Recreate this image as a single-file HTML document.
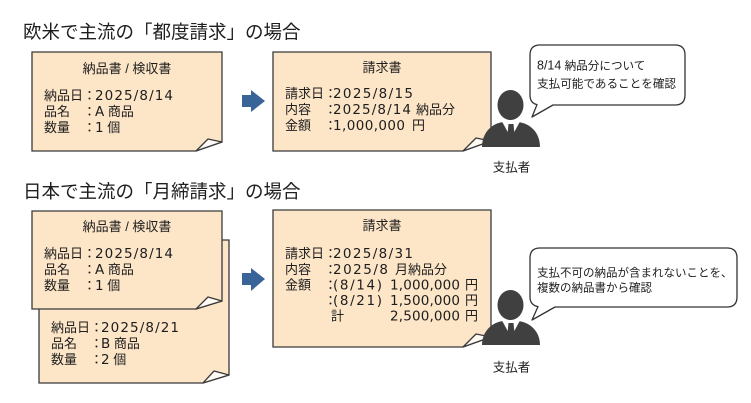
<!DOCTYPE html>
<html><head><meta charset="utf-8">
<style>
html,body{margin:0;padding:0;background:#fff;}
svg{display:block;}
text{font-family:"Liberation Sans","Noto Sans CJK JP",sans-serif;fill:#1e1e1e;}
.t{font-size:18.5px;}
.b{font-size:13px;}
.d{font-size:13.5px;font-family:"DejaVu Sans","Liberation Sans",sans-serif;}
.s{font-size:11.6px;}
.p{font-size:12.5px;}
.box{fill:#fde5c8;stroke:#3a3a3a;stroke-width:1.3;}
.fold{fill:#fffaf3;stroke:#3a3a3a;stroke-width:1.3;stroke-linejoin:round;}
.bub{fill:#fff;stroke:#333;stroke-width:1.3;stroke-linejoin:round;}
.ar{fill:#386497;}
.ps{fill:#404040;}
</style></head><body>
<svg width="751" height="403" viewBox="0 0 751 403" xmlns="http://www.w3.org/2000/svg">

<!-- Titles -->
<text class="t" x="23" y="38.5">欧米で主流の「都度請求」の場合</text>
<text class="t" x="23" y="198">日本で主流の「月締請求」の場合</text>

<!-- ===== Section 1 ===== -->
<!-- Box 1 -->
<path class="box" d="M32 52 H222 V142 L196 151 H32 Z"/>
<path class="fold" d="M196 151 L208 139 L222 142 Z"/>
<text class="b" x="127" y="73" text-anchor="middle">納品書 / 検収書</text>
<text class="b" x="44" y="100">納品日</text><text class="b" x="83" y="100">：</text>
<text class="d" x="95" y="100" textLength="78" lengthAdjust="spacing">2025/8/14</text>
<text class="b" x="44" y="116">品名</text><text class="b" x="83" y="116">：</text>
<text class="b" x="95" y="116"><tspan class="d">A</tspan> 商品</text>
<text class="b" x="44" y="132">数量</text><text class="b" x="83" y="132">：</text>
<text class="b" x="95" y="132"><tspan class="d">1</tspan> 個</text>

<!-- Arrow 1 -->
<rect class="ar" x="242" y="95" width="10" height="12"/>
<polygon class="ar" points="251,90 265,101 251,112"/>

<!-- Box 2 -->
<path class="box" d="M273 52 H491 V141 L463 151 H273 Z"/>
<path class="fold" d="M463 151 L476 138 L491 141 Z"/>
<text class="b" x="382" y="72" text-anchor="middle">請求書</text>
<text class="b" x="285" y="98">請求日</text><text class="b" x="324" y="98">：</text>
<text class="d" x="333" y="98" textLength="80" lengthAdjust="spacing">2025/8/15</text>
<text class="b" x="285" y="114">内容</text><text class="b" x="324" y="114">：</text>
<text class="d" x="333" y="114" textLength="78" lengthAdjust="spacing">2025/8/14</text>
<text class="b" x="416" y="114">納品分</text>
<text class="b" x="285" y="130">金額</text><text class="b" x="324" y="130">：</text>
<text class="d" x="333" y="130" textLength="72" lengthAdjust="spacing">1,000,000</text>
<text class="b" x="412" y="130">円</text>

<!-- Person 1 -->
<g>
  <ellipse class="ps" cx="510.5" cy="105" rx="13" ry="15"/>
  <path class="ps" d="M482 147 C482 131 494 122 505 122 L516 122 C528 122 540 131 540 147 Z"/>
  <polygon fill="#fff" points="502,121.5 520,121.5 511,138"/>
  <polygon class="ps" points="508.5,124 513.5,124 514.5,134 511,139 507.5,134"/>
</g>
<text class="p" x="511.5" y="171.5" text-anchor="middle">支払者</text>

<!-- Bubble 1 -->
<path class="bub" d="M540 45 H675 Q685 45 685 55 V95 Q685 105 675 105 H553 L532 117 L537 104.6 Q530 103 530 95 V55 Q530 45 540 45 Z"/>
<text class="s" x="537" y="69.5"><tspan style="font-size:12.5px">8/14</tspan> 納品分について</text>
<text class="s" x="537" y="87.5">支払可能であることを確認</text>

<!-- ===== Section 2 ===== -->
<!-- Box 4 (back) -->
<path class="box" d="M39 240 H229 V375 L203 383 H39 Z"/>
<path class="fold" d="M203 383 L214 371 L229 375 Z"/>
<text class="b" x="51" y="332">納品日</text><text class="b" x="90" y="332">：</text>
<text class="d" x="101" y="332" textLength="78" lengthAdjust="spacing">2025/8/21</text>
<text class="b" x="51" y="348">品名</text><text class="b" x="90" y="348">：</text>
<text class="b" x="101" y="348"><tspan class="d">B</tspan> 商品</text>
<text class="b" x="51" y="364">数量</text><text class="b" x="90" y="364">：</text>
<text class="b" x="101" y="364"><tspan class="d">2</tspan> 個</text>

<!-- Box 3 (front) -->
<path class="box" d="M32 211 H222 V301 L196 309 H32 Z"/>
<path class="fold" d="M196 309 L208 297 L222 301 Z"/>
<text class="b" x="127" y="231" text-anchor="middle">納品書 / 検収書</text>
<text class="b" x="44" y="258">納品日</text><text class="b" x="83" y="258">：</text>
<text class="d" x="95" y="258" textLength="78" lengthAdjust="spacing">2025/8/14</text>
<text class="b" x="44" y="274">品名</text><text class="b" x="83" y="274">：</text>
<text class="b" x="95" y="274"><tspan class="d">A</tspan> 商品</text>
<text class="b" x="44" y="290">数量</text><text class="b" x="83" y="290">：</text>
<text class="b" x="95" y="290"><tspan class="d">1</tspan> 個</text>

<!-- Arrow 2 -->
<rect class="ar" x="242" y="273" width="10" height="12"/>
<polygon class="ar" points="251,268 265,279 251,291"/>

<!-- Box 5 -->
<path class="box" d="M273 210 H491 V337 L463 347 H273 Z"/>
<path class="fold" d="M463 347 L476 334 L491 337 Z"/>
<text class="b" x="382" y="230" text-anchor="middle">請求書</text>
<text class="b" x="285" y="258">請求日</text><text class="b" x="324" y="258">：</text>
<text class="d" x="333" y="258" textLength="80" lengthAdjust="spacing">2025/8/31</text>
<text class="b" x="285" y="274">内容</text><text class="b" x="324" y="274">：</text>
<text class="d" x="333" y="274" textLength="55" lengthAdjust="spacing">2025/8</text>
<text class="b" x="395" y="274">月納品分</text>
<text class="b" x="285" y="289.5">金額</text><text class="b" x="324" y="289.5">：</text>
<text class="d" x="333" y="289.5" textLength="49" lengthAdjust="spacing">(8/14)</text>
<text class="d" x="390" y="289.5" textLength="70" lengthAdjust="spacing">1,000,000</text>
<text class="b" x="465" y="289.5">円</text>
<text class="b" x="324" y="305">：</text>
<text class="d" x="333" y="305" textLength="49" lengthAdjust="spacing">(8/21)</text>
<text class="d" x="390" y="305" textLength="70" lengthAdjust="spacing">1,500,000</text>
<text class="b" x="465" y="305">円</text>
<text class="b" x="331" y="320.5">計</text>
<text class="d" x="390" y="320.5" textLength="70" lengthAdjust="spacing">2,500,000</text>
<text class="b" x="465" y="320.5">円</text>

<!-- Person 2 -->
<g transform="translate(0,200)">
  <ellipse class="ps" cx="510.5" cy="105" rx="13" ry="15"/>
  <path class="ps" d="M482 145 C482 130 494 121 505 121 L516 121 C528 121 540 130 540 145 Z"/>
  <polygon fill="#fff" points="502,120.5 520,120.5 511,137"/>
  <polygon class="ps" points="508.5,123 513.5,123 514.5,133 511,138 507.5,133"/>
</g>
<text class="p" x="511.5" y="371.5" text-anchor="middle">支払者</text>

<!-- Bubble 2 -->
<path class="bub" d="M540 248 H727 Q737 248 737 258 V297 Q737 307 727 307 H555 L532 320 L538 306.6 Q530 305 530 297 V258 Q530 248 540 248 Z"/>
<text class="s" x="537" y="276.5" style="font-size:11.5px">支払不可の納品が含まれないことを、</text>
<text class="s" x="537" y="291.5" style="font-size:11.5px">複数の納品書から確認</text>

</svg>
</body></html>
